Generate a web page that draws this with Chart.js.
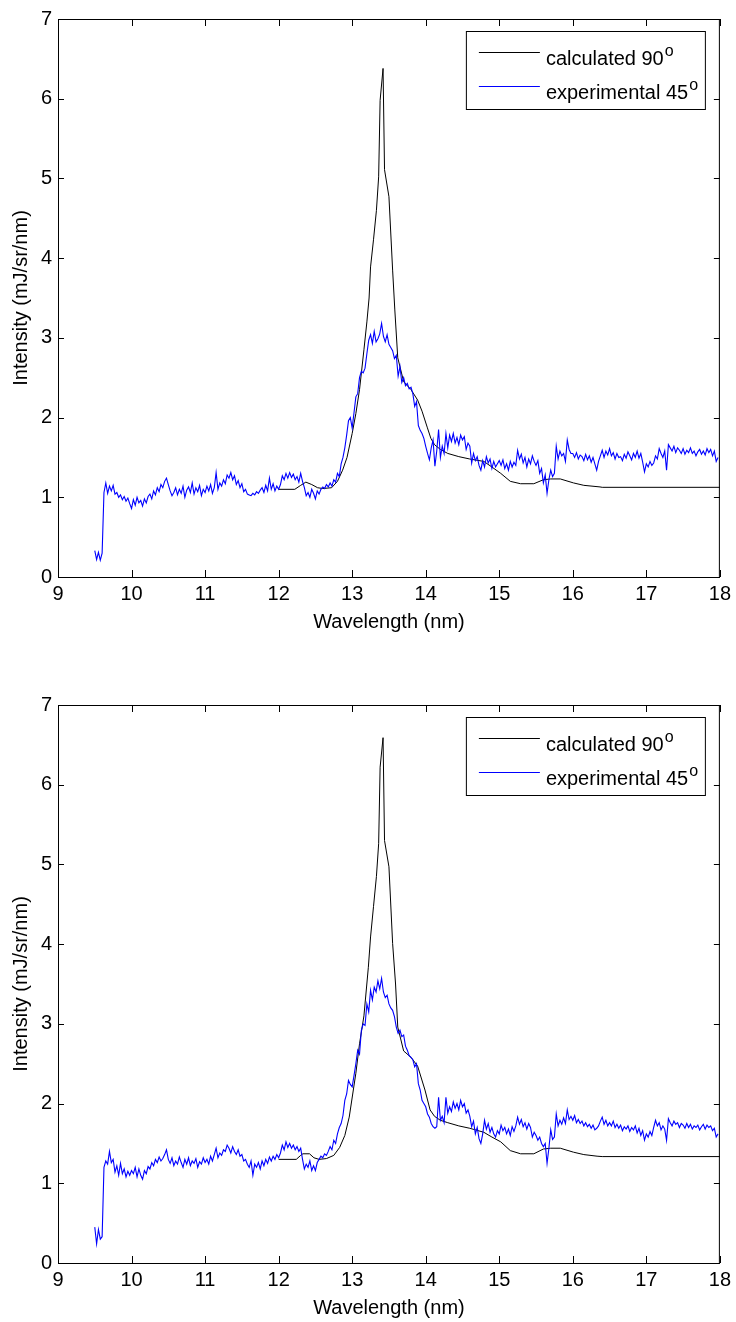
<!DOCTYPE html>
<html>
<head>
<meta charset="utf-8">
<script src="https://cdn.jsdelivr.net/npm/chart.js@4.4.0/dist/chart.umd.min.js"></script>
<style>
  body { margin: 0; background: #fff; width: 736px; height: 1322px; overflow: hidden; position: relative; }
  canvas { position: absolute; left: 0; }
  #graficoTopo { top: 0; }
  #graficoBaixo { top: 686px; }
</style>
</head>
<body>
<canvas id="graficoTopo" width="736" height="640"></canvas>
<canvas id="graficoBaixo" width="736" height="640"></canvas>
<script>
// eixos
const xTicks = [9, 10, 11, 12, 13, 14, 15, 16, 17, 18];
const yTicks = [0, 1, 2, 3, 4, 5, 6, 7];
const xTitle = "Wavelength (nm)";
const yTitle = "Intensity (mJ/sr/nm)";
const seriesNames = ["calculated 90", "experimental 45"];
const degreeMark = "o";

// espectro experimental: comprimento de onda inicial e passo da amostragem
const expStart = 9.5;
const expStep = 0.025;

// grafico de cima
const calcTopX = [12.0, 12.22, 12.3, 12.37, 12.45, 12.53, 12.6, 12.72, 12.8, 12.87, 12.93, 13.0, 13.05, 13.1, 13.16, 13.2, 13.23, 13.25, 13.29, 13.33, 13.36, 13.38, 13.42, 13.44, 13.5, 13.55, 13.58, 13.62, 13.7, 13.8, 13.89, 13.95, 14.02, 14.07, 14.12, 14.2, 14.3, 14.45, 14.6, 14.79, 14.9, 15.02, 15.15, 15.29, 15.47, 15.6, 15.7, 15.83, 16.01, 16.15, 16.37, 16.4, 18.0];
const calcTopY = [1.10, 1.10, 1.15, 1.19, 1.16, 1.12, 1.11, 1.12, 1.20, 1.34, 1.50, 1.80, 2.05, 2.35, 2.85, 3.20, 3.50, 3.89, 4.23, 4.60, 5.02, 5.98, 6.38, 5.11, 4.77, 3.85, 3.35, 2.75, 2.45, 2.35, 2.22, 2.08, 1.88, 1.74, 1.66, 1.60, 1.55, 1.51, 1.48, 1.45, 1.38, 1.30, 1.20, 1.17, 1.17, 1.22, 1.23, 1.23, 1.18, 1.15, 1.13, 1.125, 1.125];
const expTopY = [
  0.33, 0.22, 0.31, 0.21, 0.30, 1.06, 1.18, 1.05, 1.14, 1.08, 1.15, 1.04, 1.06, 1.00, 1.03, 0.97, 1.01, 0.95, 0.99, 0.92,
  0.86, 0.97, 0.90, 1.00, 0.93, 0.96, 0.89, 0.98, 0.93, 1.01, 1.04, 0.98, 1.08, 1.03, 1.12, 1.07, 1.16, 1.12, 1.20, 1.24,
  1.16, 1.08, 1.02, 1.06, 1.12, 1.03, 1.10, 1.05, 1.14, 1.00, 1.09, 1.13, 1.06, 1.18, 1.04, 1.12, 1.07, 1.15, 1.02, 1.10,
  1.06, 1.14, 1.08, 1.16, 1.05, 1.12, 1.31, 1.10, 1.18, 1.14, 1.22, 1.17, 1.28, 1.24, 1.31, 1.22, 1.27, 1.16, 1.21, 1.12,
  1.17, 1.07, 1.10, 1.04, 1.03, 1.02, 1.05, 1.03, 1.07, 1.05, 1.09, 1.12, 1.06, 1.15, 1.08, 1.24, 1.10, 1.17, 1.08, 1.14,
  1.10, 1.16, 1.27, 1.22, 1.30, 1.24, 1.31, 1.25, 1.29, 1.22, 1.26, 1.19, 1.30, 1.20, 1.12, 1.02, 1.06, 1.00, 1.10, 1.05,
  0.98, 1.08, 1.04, 1.10, 1.13, 1.11, 1.16, 1.13, 1.18, 1.14, 1.22, 1.19, 1.30, 1.26, 1.42, 1.50, 1.62, 1.78, 1.96, 2.00,
  1.87, 2.06, 2.26, 2.30, 2.50, 2.58, 2.56, 2.62, 2.80, 2.97, 3.04, 2.93, 3.08, 2.95, 2.99, 3.05, 3.18, 3.02, 2.95, 3.04,
  2.92, 2.88, 2.84, 2.74, 2.78, 2.52, 2.64, 2.44, 2.50, 2.40, 2.43, 2.36, 2.38, 2.30, 2.14, 2.20, 1.90, 1.84, 1.80, 1.74,
  1.64, 1.55, 1.47, 1.62, 1.72, 1.39, 1.58, 1.85, 1.50, 1.64, 1.55, 1.80, 1.62, 1.78, 1.70, 1.80, 1.68, 1.75, 1.66, 1.78,
  1.72, 1.76, 1.60, 1.68, 1.64, 1.43, 1.55, 1.46, 1.51, 1.40, 1.34, 1.46, 1.38, 1.51, 1.43, 1.48, 1.36, 1.45, 1.38, 1.42,
  1.46, 1.40, 1.47, 1.36, 1.42, 1.34, 1.45, 1.38, 1.44, 1.40, 1.59, 1.48, 1.54, 1.43, 1.50, 1.38, 1.48, 1.42, 1.52, 1.45,
  1.40, 1.46, 1.30, 1.36, 1.18, 1.28, 1.05, 1.22, 1.34, 1.26, 1.30, 1.64, 1.48, 1.58, 1.52, 1.55, 1.45, 1.72, 1.60, 1.55,
  1.55, 1.50, 1.56, 1.48, 1.53, 1.51, 1.46, 1.54, 1.47, 1.52, 1.44, 1.50, 1.42, 1.34, 1.45, 1.52, 1.59, 1.50, 1.58, 1.53,
  1.61, 1.52, 1.56, 1.48, 1.55, 1.50, 1.51, 1.46, 1.54, 1.49, 1.57, 1.52, 1.47, 1.55, 1.50, 1.58, 1.49, 1.55, 1.44, 1.32,
  1.42, 1.38, 1.45, 1.40, 1.43, 1.52, 1.48, 1.61, 1.55, 1.50, 1.58, 1.34, 1.66, 1.62, 1.58, 1.64, 1.56, 1.62, 1.59, 1.55,
  1.61, 1.54, 1.59, 1.56, 1.62, 1.55, 1.58, 1.52, 1.57, 1.60, 1.54, 1.58, 1.53, 1.61, 1.56, 1.60, 1.52, 1.58, 1.45, 1.50
];

// grafico de baixo
const calcBotX = [12.0, 12.24, 12.3, 12.33, 12.42, 12.48, 12.55, 12.65, 12.75, 12.83, 12.9, 12.96, 13.05, 13.1, 13.16, 13.22, 13.25, 13.29, 13.33, 13.36, 13.38, 13.42, 13.44, 13.5, 13.55, 13.59, 13.62, 13.7, 13.8, 13.89, 13.99, 14.06, 14.12, 14.2, 14.3, 14.45, 14.6, 14.79, 14.9, 15.02, 15.15, 15.29, 15.47, 15.6, 15.7, 15.83, 16.01, 16.15, 16.33, 16.4, 18.0];
const calcBotY = [1.30, 1.30, 1.35, 1.37, 1.37, 1.32, 1.30, 1.31, 1.35, 1.45, 1.60, 1.83, 2.38, 2.75, 3.10, 3.71, 4.09, 4.47, 4.85, 5.26, 6.22, 6.59, 5.30, 4.97, 4.01, 3.50, 2.96, 2.66, 2.58, 2.47, 2.17, 1.92, 1.84, 1.79, 1.76, 1.72, 1.69, 1.64, 1.58, 1.52, 1.41, 1.37, 1.37, 1.43, 1.44, 1.44, 1.39, 1.36, 1.34, 1.335, 1.335];
const expBotY = [
  0.45, 0.24, 0.42, 0.30, 0.33, 1.20, 1.28, 1.24, 1.40, 1.26, 1.30, 1.14, 1.22, 1.10, 1.25, 1.12, 1.18, 1.08, 1.15, 1.10,
  1.16, 1.12, 1.20, 1.08, 1.18, 1.10, 1.05, 1.16, 1.12, 1.21, 1.18, 1.26, 1.22, 1.30, 1.26, 1.33, 1.28, 1.31, 1.36, 1.42,
  1.30, 1.25, 1.32, 1.22, 1.28, 1.24, 1.33, 1.26, 1.20, 1.30, 1.24, 1.32, 1.22, 1.28, 1.25, 1.31, 1.20, 1.27, 1.24, 1.32,
  1.26, 1.30, 1.24, 1.34, 1.28, 1.36, 1.44, 1.32, 1.38, 1.35, 1.42, 1.40, 1.48, 1.44, 1.38, 1.46, 1.40, 1.36, 1.42, 1.34,
  1.36, 1.28, 1.30, 1.24, 1.20, 1.28, 1.10, 1.24, 1.20, 1.26, 1.18, 1.28, 1.22, 1.30, 1.25, 1.33, 1.28, 1.34, 1.30, 1.36,
  1.32, 1.38, 1.48, 1.42, 1.52, 1.45, 1.50, 1.44, 1.48, 1.42, 1.46, 1.40, 1.44, 1.30, 1.18, 1.24, 1.20, 1.28, 1.16, 1.22,
  1.16, 1.26, 1.30, 1.34, 1.32, 1.37, 1.35, 1.40, 1.46, 1.42, 1.54, 1.50, 1.62, 1.70, 1.75, 1.85, 2.04, 2.12, 2.29, 2.24,
  2.21, 2.35, 2.50, 2.67, 2.62, 2.92, 3.00, 2.98, 3.25, 3.15, 3.42, 3.30, 3.46, 3.40, 3.54, 3.44, 3.57, 3.40, 3.33, 3.36,
  3.25, 3.20, 3.17, 3.09, 2.96, 2.88, 2.92, 2.84, 2.86, 2.72, 2.67, 2.60, 2.58, 2.55, 2.46, 2.50, 2.25, 2.17, 2.04, 2.00,
  1.96, 1.87, 1.83, 1.75, 1.71, 1.69, 1.71, 2.08, 1.79, 1.84, 1.76, 2.08, 1.88, 1.96, 1.90, 2.02, 1.94, 2.00, 1.92, 2.04,
  1.96, 2.00, 1.88, 1.92, 1.84, 1.71, 1.78, 1.62, 1.70, 1.56, 1.50, 1.62, 1.79, 1.68, 1.75, 1.64, 1.70, 1.62, 1.58, 1.66,
  1.62, 1.73, 1.66, 1.70, 1.62, 1.68, 1.60, 1.71, 1.65, 1.72, 1.83, 1.74, 1.80, 1.71, 1.76, 1.68, 1.75, 1.70, 1.58, 1.64,
  1.60, 1.54, 1.58, 1.50, 1.46, 1.50, 1.25, 1.44, 1.67, 1.55, 1.58, 1.87, 1.72, 1.79, 1.74, 1.82, 1.75, 1.92, 1.80, 1.84,
  1.79, 1.85, 1.76, 1.80, 1.75, 1.78, 1.72, 1.76, 1.71, 1.74, 1.69, 1.73, 1.67, 1.69, 1.72, 1.78, 1.83, 1.74, 1.79, 1.72,
  1.76, 1.72, 1.78, 1.70, 1.74, 1.69, 1.73, 1.66, 1.71, 1.68, 1.72, 1.65, 1.70, 1.67, 1.72, 1.63, 1.69, 1.60, 1.66, 1.54,
  1.62, 1.58, 1.65, 1.60, 1.70, 1.79, 1.72, 1.76, 1.67, 1.72, 1.68, 1.54, 1.81, 1.76, 1.72, 1.78, 1.74, 1.76, 1.70, 1.75,
  1.73, 1.69, 1.75, 1.70, 1.74, 1.68, 1.72, 1.70, 1.73, 1.67, 1.71, 1.74, 1.68, 1.73, 1.70, 1.72, 1.66, 1.69, 1.58, 1.62
];

const fonte = "'Liberation Sans', Arial, Helvetica, sans-serif";
Chart.defaults.font.family = fonte;
Chart.defaults.font.size = 20;
Chart.defaults.color = "#000";

function pares(xs, ys) {
    return xs.map((x, i) => ({x: x, y: ys[i]}));
}

function paresExp(ys) {
    return ys.map((y, i) => ({x: +(expStart + i * expStep).toFixed(3), y: y}));
}

// caixa estilo matlab com ticks para dentro
const moldura = {
    id: "moldura",
    afterDraw(chart) {
        const {ctx, chartArea: a, scales} = chart;
        ctx.save();
        ctx.strokeStyle = "#000";
        ctx.lineWidth = 1;
        ctx.strokeRect(a.left + 0.5, a.top + 0.5, a.width - 1, a.height);
        ctx.beginPath();
        scales.x.ticks.forEach(t => {
            const px = Math.round(scales.x.getPixelForValue(t.value)) + 0.5;
            ctx.moveTo(px, a.bottom); ctx.lineTo(px, a.bottom - 7);
            ctx.moveTo(px, a.top); ctx.lineTo(px, a.top + 7);
        });
        scales.y.ticks.forEach(t => {
            const py = Math.round(scales.y.getPixelForValue(t.value)) + 0.5;
            ctx.moveTo(a.left, py); ctx.lineTo(a.left + 6, py);
            ctx.moveTo(a.right, py); ctx.lineTo(a.right - 6, py);
        });
        ctx.stroke();

        // legenda
        const bx = a.right - 254, by = a.top + 12, bw = 239, bh = 78;
        ctx.fillStyle = "#fff";
        ctx.fillRect(bx, by, bw, bh);
        ctx.strokeRect(bx + 0.5, by + 0.5, bw, bh);
        const linhas = [a.top + 33, a.top + 67];
        chart.data.datasets.slice().sort((d1, d2) => d1.legendIndex - d2.legendIndex).forEach((ds, i) => {
            const ly = linhas[i] + 0.5;
            ctx.strokeStyle = ds.borderColor;
            ctx.beginPath();
            ctx.moveTo(bx + 13, ly); ctx.lineTo(bx + 74, ly);
            ctx.stroke();
            ctx.fillStyle = "#000";
            ctx.textBaseline = "alphabetic";
            ctx.textAlign = "left";
            ctx.font = "20px " + fonte;
            const base = linhas[i] + 13;
            ctx.fillText(ds.label, bx + 80, base);
            const w = ctx.measureText(ds.label).width;
            ctx.font = "16px " + fonte;
            ctx.fillText(degreeMark, bx + 80 + w + 1, base - 9);
        });
        ctx.restore();
    }
};

function criarGrafico(id, calcX, calcY, expY) {
    const ctx = document.getElementById(id).getContext("2d");
    return new Chart(ctx, {
        type: "scatter",
        data: {
            datasets: [
                {
                    label: seriesNames[1],
                    legendIndex: 1,
                    data: paresExp(expY),
                    showLine: true,
                    borderColor: "#0000ff",
                    borderWidth: 1.1,
                    pointRadius: 0,
                    tension: 0,
                    order: 0
                },
                {
                    label: seriesNames[0],
                    legendIndex: 0,
                    data: pares(calcX, calcY),
                    showLine: true,
                    borderColor: "#000000",
                    borderWidth: 1,
                    pointRadius: 0,
                    tension: 0,
                    order: 1
                }
            ]
        },
        options: {
            responsive: false,
            animation: false,
            events: [],
            layout: { padding: { top: 19, right: 15, left: 0, bottom: 0 } },
            plugins: {
                legend: { display: false },
                tooltip: { enabled: false }
            },
            scales: {
                x: {
                    type: "linear",
                    min: xTicks[0],
                    max: xTicks[xTicks.length - 1],
                    afterBuildTicks: s => { s.ticks = xTicks.map(v => ({value: v})); },
                    afterFit: s => { s.height = 63; },
                    grid: { display: false, drawTicks: false },
                    border: { display: false },
                    ticks: { padding: 5, maxRotation: 0, autoSkip: false },
                    title: { display: true, text: xTitle, padding: { top: 4, bottom: 6 } }
                },
                y: {
                    type: "linear",
                    min: yTicks[0],
                    max: yTicks[yTicks.length - 1],
                    afterBuildTicks: s => { s.ticks = yTicks.map(v => ({value: v})); },
                    afterFit: s => { s.width = 58; },
                    grid: { display: false, drawTicks: false },
                    border: { display: false },
                    ticks: { padding: 6, autoSkip: false },
                    title: { display: true, text: yTitle, padding: { top: 9, bottom: 0 } }
                }
            }
        },
        plugins: [moldura]
    });
}

document.addEventListener("DOMContentLoaded", function() {
    criarGrafico("graficoTopo", calcTopX, calcTopY, expTopY);
    criarGrafico("graficoBaixo", calcBotX, calcBotY, expBotY);
});
</script>
</body>
</html>
